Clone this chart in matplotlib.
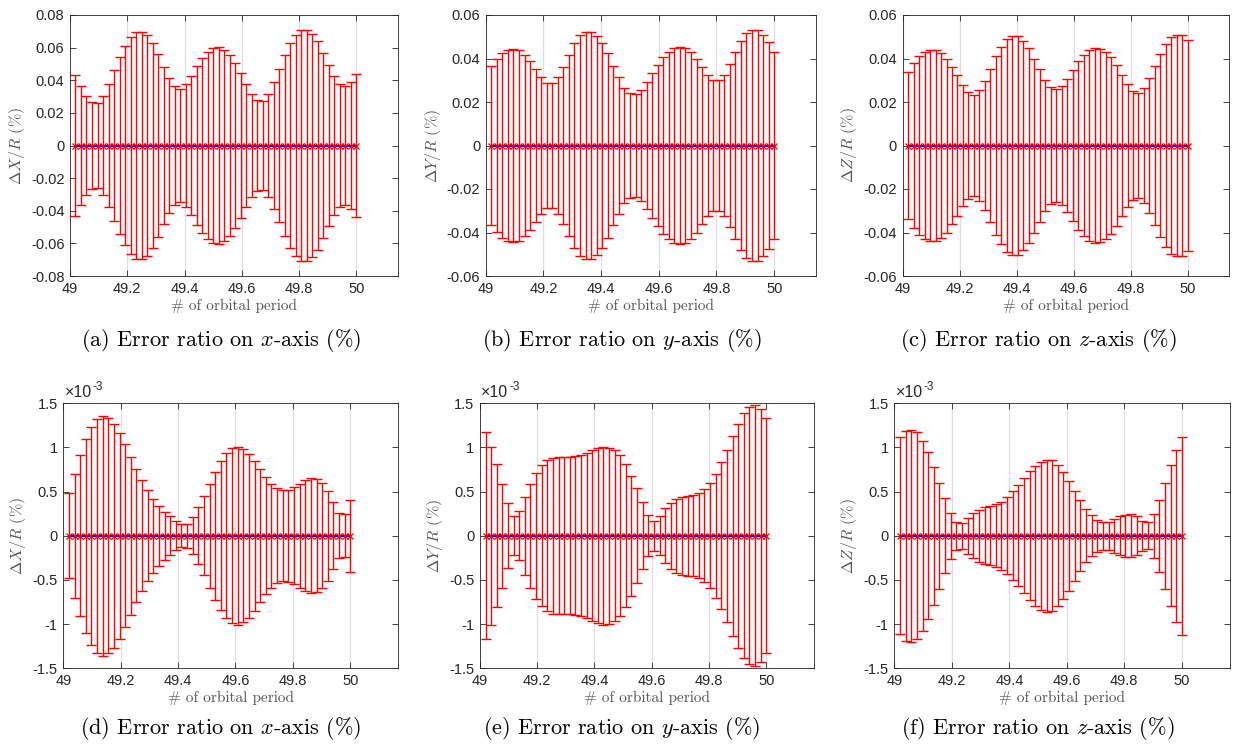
import matplotlib
matplotlib.use("Agg")
import matplotlib.pyplot as plt
import numpy as np
from matplotlib.ticker import FuncFormatter, MultipleLocator

plt.rcParams['font.family'] = ['Liberation Sans', 'DejaVu Sans']
plt.rcParams['mathtext.fontset'] = 'cm'
plt.rcParams['axes.unicode_minus'] = False

# first run: 52 samples over the last orbit, error half-width in %
samples_top = 52
err_x_top = [0.0435, 0.0367, 0.0306, 0.0267, 0.0263, 0.0306, 0.0377, 0.046, 0.054, 0.0611,
             0.0663, 0.0693, 0.0697, 0.0675, 0.0626, 0.0562, 0.0484, 0.0414, 0.0363, 0.0349,
             0.0377, 0.0429, 0.0486, 0.0537, 0.0576, 0.0599, 0.0601, 0.0587, 0.0555, 0.0503,
             0.0443, 0.0377, 0.0316, 0.0277, 0.0275, 0.0318, 0.0392, 0.0472, 0.0556, 0.0626,
             0.0679, 0.0706, 0.071, 0.0685, 0.0638, 0.057, 0.0496, 0.0423, 0.0375, 0.0363,
             0.0392, 0.0441]
err_y_top = [0.0365, 0.0397, 0.0423, 0.0437, 0.0443, 0.0438, 0.0418, 0.0389, 0.0354, 0.0315,
             0.0289, 0.0288, 0.0315, 0.0363, 0.0418, 0.0469, 0.0506, 0.0522, 0.0522, 0.0503,
             0.0469, 0.0423, 0.0366, 0.0314, 0.0266, 0.024, 0.0235, 0.0257, 0.0294, 0.0335,
             0.037, 0.0405, 0.043, 0.0448, 0.0452, 0.0448, 0.043, 0.040, 0.036, 0.0325,
             0.030, 0.030, 0.0325, 0.0375, 0.043, 0.048, 0.0515, 0.053, 0.053, 0.051,
             0.0475, 0.043]
err_z_top = [0.034, 0.0378, 0.041, 0.043, 0.044, 0.0438, 0.0425, 0.040, 0.0363, 0.0322,
             0.028, 0.0245, 0.0233, 0.0253, 0.0298, 0.0353, 0.041, 0.0455, 0.0488, 0.0503,
             0.0502, 0.048, 0.0448, 0.040, 0.035, 0.030, 0.0267, 0.0258, 0.0275, 0.0308,
             0.0348, 0.0387, 0.0417, 0.0437, 0.0447, 0.0445, 0.043, 0.0405, 0.0368, 0.0326,
             0.0285, 0.025, 0.0242, 0.0265, 0.031, 0.0366, 0.042, 0.0465, 0.0497, 0.051,
             0.0507, 0.0484]

# second run: 51 samples over the last orbit, error half-width in 1e-3 %
samples_bottom = 51
err_x_bottom = [0.48, 0.70, 0.914, 1.10, 1.235, 1.326, 1.36, 1.333, 1.27, 1.164,
                1.035, 0.895, 0.755, 0.627, 0.514, 0.42, 0.34, 0.272, 0.219, 0.166,
                0.128, 0.136, 0.208, 0.321, 0.446, 0.586, 0.725, 0.846, 0.935, 0.99,
                1.009, 0.982, 0.929, 0.85, 0.755, 0.665, 0.589, 0.536, 0.514, 0.521,
                0.548, 0.589, 0.627, 0.65, 0.642, 0.593, 0.51, 0.378, 0.253, 0.242,
                0.408]
err_y_bottom = [1.17, 1.01, 0.81, 0.59, 0.366, 0.219, 0.28, 0.44, 0.59, 0.713,
                0.80, 0.857, 0.883, 0.89, 0.89, 0.89, 0.898, 0.913, 0.936, 0.966,
                0.989, 1.007, 0.996, 0.966, 0.91, 0.807, 0.679, 0.536, 0.377, 0.234,
                0.17, 0.22, 0.31, 0.375, 0.42, 0.44, 0.45, 0.46, 0.48, 0.525,
                0.595, 0.70, 0.83, 0.975, 1.13, 1.27, 1.385, 1.455, 1.475, 1.43,
                1.33]
err_z_bottom = [1.117, 1.19, 1.20, 1.17, 1.076, 0.943, 0.78, 0.60, 0.426, 0.26,
                0.158, 0.147, 0.204, 0.253, 0.294, 0.32, 0.336, 0.355, 0.385, 0.434,
                0.506, 0.57, 0.65, 0.73, 0.795, 0.84, 0.86, 0.855, 0.80, 0.72,
                0.62, 0.51, 0.40, 0.30, 0.23, 0.18, 0.16, 0.16, 0.19, 0.22,
                0.24, 0.245, 0.22, 0.17, 0.155, 0.25, 0.41, 0.60, 0.80, 0.975,
                1.12]

orbit_start = 49
x_ticks = [49, 49.2, 49.4, 49.6, 49.8, 50]
ylabels = [r"$\Delta X/R$ (%)", r"$\Delta Y/R$ (%)", r"$\Delta Z/R$ (%)"]
axis_names = ["x", "y", "z"]
letters = ["a", "b", "c", "d", "e", "f"]

TEXT_DARK = "#262626"
TEXT_GRAY = "#555555"
SERIF = ['cmr10', 'DejaVu Serif']


def plot_error_panel(ax, err, n_samples, ylim, ystep, ylabel, xmax, scale=1.0):
    x = orbit_start + np.arange(1, n_samples + 1) / n_samples
    half = np.asarray(err) * scale
    zero = np.zeros_like(x)

    ax.errorbar(x, zero, yerr=half, fmt='none', ecolor='red',
                elinewidth=1.0, capsize=3.5, capthick=1.0, zorder=3)
    ax.plot(x, zero, '-', color='blue', lw=1.5, zorder=4)
    ax.plot(x, zero, 'x', color='red', ms=4, mew=0.9, zorder=5)

    ax.set_xlim(orbit_start, xmax)
    ax.set_ylim(-ylim, ylim)
    ax.set_xticks(x_ticks)
    ax.yaxis.set_major_locator(MultipleLocator(ystep))
    ax.xaxis.set_major_formatter(FuncFormatter(lambda v, p: "%g" % v))
    ax.yaxis.set_major_formatter(FuncFormatter(lambda v, p: "%g" % round(v / scale, 6)))
    ax.grid(True, axis='x', color='#dedede', lw=0.9)
    ax.set_axisbelow(True)

    ax.tick_params(direction='in', length=4, width=0.6, top=True, right=True,
                   labelsize=10.5, colors=TEXT_DARK, pad=4)
    for s in ax.spines.values():
        s.set_color(TEXT_DARK)
        s.set_linewidth(0.6)

    ax.set_xlabel("# of orbital period", family=SERIF, fontsize=11,
                  color=TEXT_GRAY, labelpad=2)
    ax.set_ylabel(ylabel, family=SERIF, fontsize=11.5, color=TEXT_GRAY, labelpad=3)


fig = plt.figure(figsize=(12.36, 7.5), dpi=100)

top_boxes = [[0.0566, 0.632, 0.2654, 0.348],
             [0.3930, 0.632, 0.2672, 0.348],
             [0.7303, 0.632, 0.2642, 0.348]]
bottom_boxes = [[0.0512, 0.109, 0.2712, 0.3533],
                [0.3883, 0.109, 0.2705, 0.3533],
                [0.7236, 0.109, 0.2716, 0.3533]]

top_err = [err_x_top, err_y_top, err_z_top]
top_lim = [0.08, 0.06, 0.06]
bottom_err = [err_x_bottom, err_y_bottom, err_z_bottom]

for i in range(3):
    ax = fig.add_axes(top_boxes[i])
    plot_error_panel(ax, top_err[i], samples_top, top_lim[i], 0.02,
                     ylabels[i], 50.145)

for i in range(3):
    ax = fig.add_axes(bottom_boxes[i])
    plot_error_panel(ax, bottom_err[i], samples_bottom, 1.5e-3, 0.5e-3,
                     ylabels[i], 50.168, scale=1e-3)
    # exponent shown above the y axis
    ax.annotate("\u00d710", xy=(0, 1), xycoords='axes fraction', xytext=(1, 2),
                textcoords='offset points', fontsize=11.5, color=TEXT_DARK,
                ha='left', va='bottom')
    ax.annotate("-3", xy=(0, 1), xycoords='axes fraction', xytext=(21, 7.5),
                textcoords='offset points', fontsize=8.5, color=TEXT_DARK,
                ha='left', va='bottom')

# sub-figure captions
cap_x = [221 / 1236, 622 / 1236, 1038 / 1236]
cap_y = [1 - 340 / 750, 1 - 729 / 750]
for row in range(2):
    for col in range(3):
        letter = letters[row * 3 + col]
        fig.text(cap_x[col], cap_y[row],
                 "(%s) Error ratio on $%s$-axis (%%)" % (letter, axis_names[col]),
                 family=SERIF, fontsize=16, color='black',
                 ha='center', va='center')

fig.savefig("out.png", dpi=100)
